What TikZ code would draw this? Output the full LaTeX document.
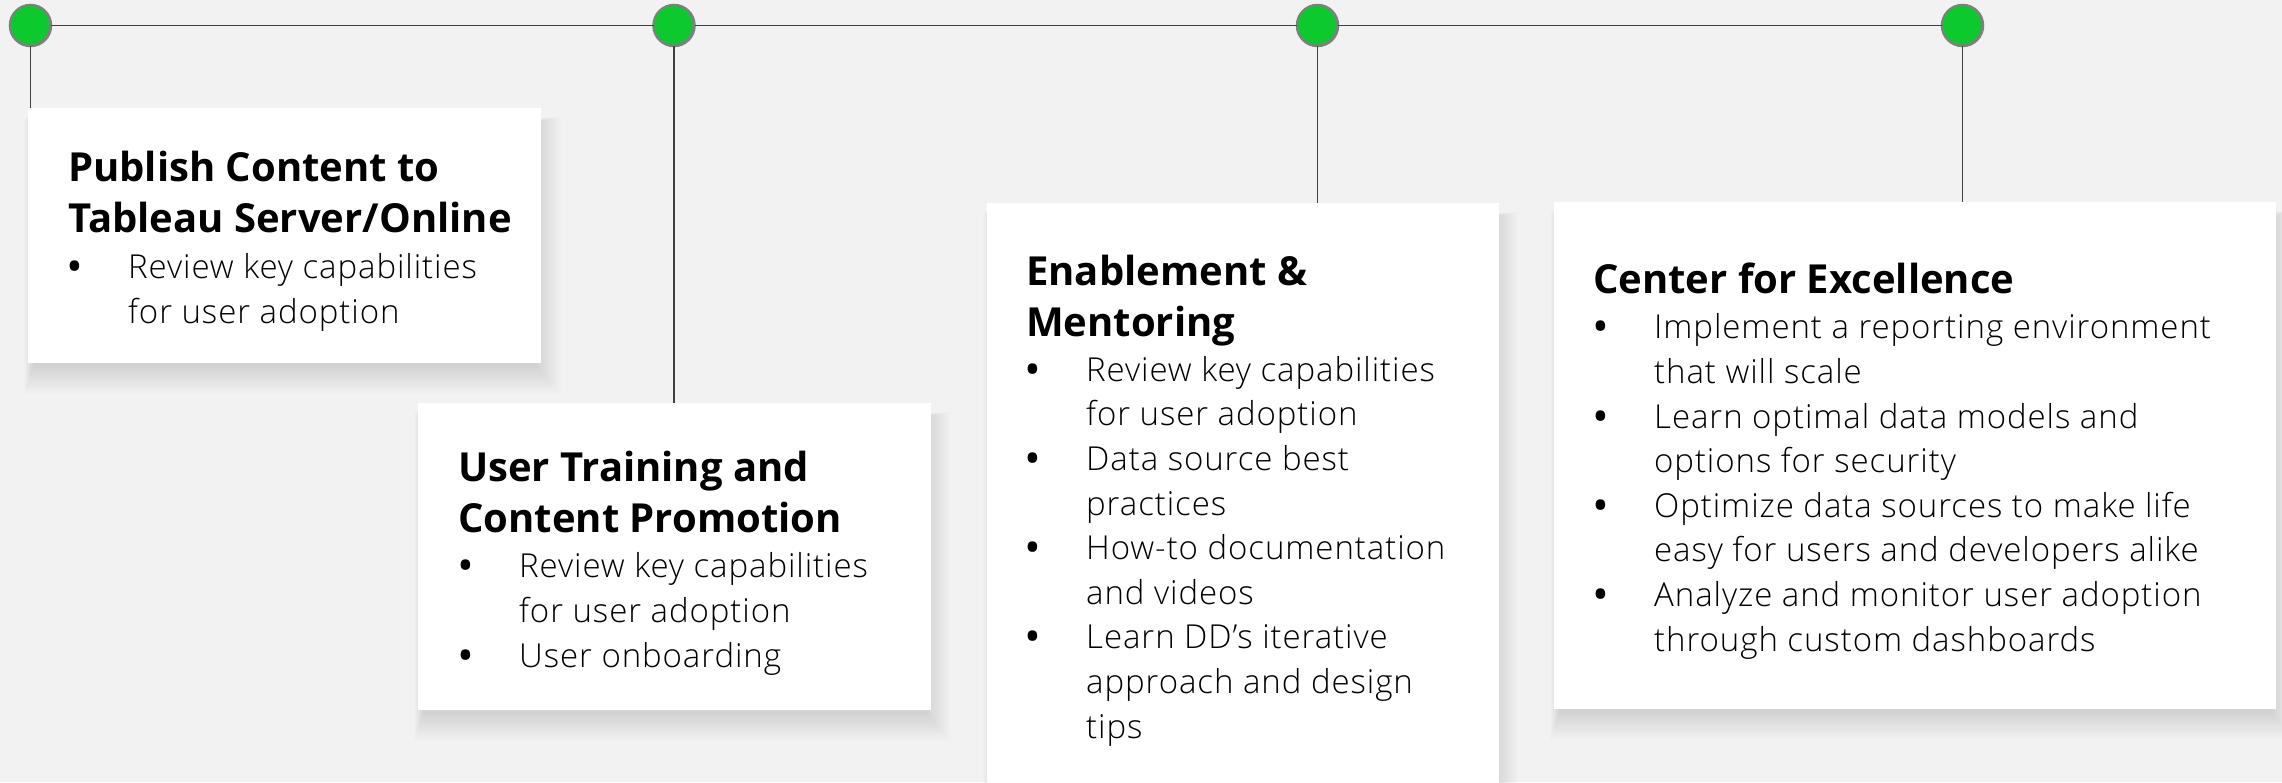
\documentclass[tikz,border=0pt]{standalone}
\usepackage{fontspec}
\setmainfont{Open Sans}
\newfontfamily\lightfont[LetterSpace=2.8]{Open Sans Light}
\usetikzlibrary{calc,backgrounds}

\definecolor{canvas}{HTML}{F2F2F2}
\definecolor{dotgreen}{HTML}{0CC92E}
\definecolor{dotring}{HTML}{7F7F7F}
\definecolor{rulegray}{HTML}{404040}

% one bullet line and one continuation line of a list
\newcommand\bulletline[1]{\makebox[60pt][l]{{\normalfont\bfseries\fontsize{34}{34}\selectfont •}}#1}
\newcommand\contline[1]{\makebox[60pt][l]{}#1}

\begin{document}
\begin{tikzpicture}[x=1pt,y=-1pt,
  card/.style={fill=white, draw=none, anchor=north west, inner sep=0pt, outer sep=0pt},
  dot/.style={circle, fill=dotgreen, draw=dotring, line width=2.5pt, minimum size=41pt, inner sep=0pt, outer sep=0pt},
  link/.style={draw=rulegray, line width=1.5pt},
  % the base anchor of these multi-line nodes sits on their last line
  headline/.style={anchor=base west, align=left, inner sep=0pt,
    font=\fontsize{40}{51}\selectfont\bfseries},
  points/.style={anchor=base west, align=left, inner sep=0pt,
    font=\lightfont\fontsize{33}{44.6}\selectfont},
]
\useasboundingbox (0,0) rectangle (2282,782);
\clip (0,0) rectangle (2282,782);

% milestone dots
\node[dot] (d1) at (30.5,25.5) {};
\node[dot] (d2) at (674,25.5) {};
\node[dot] (d3) at (1317.5,25.5) {};
\node[dot] (d4) at (1962.5,25.5) {};

% cards
\node[card, minimum width=513pt, minimum height=255pt] (b1) at (28,108) {};
\node[card, minimum width=513pt, minimum height=307pt] (b2) at (418,403) {};
\node[card, minimum width=512pt, minimum height=620pt] (b3) at (987,203) {};
\node[card, minimum width=722pt, minimum height=507pt] (b4) at (1554,202) {};

% background and soft card shadows
\begin{pgfonlayer}{background}
  \fill[canvas] (0,0) rectangle (2282,782);
  \foreach \c in {b1,b2,b3,b4}{
    \foreach \i in {1,...,16}{
      \fill[black, opacity=0.008]
        ($(\c.north west)+(-\i*0.6+6, -\i*0.3+14)$) rectangle
        ($(\c.south east)+(\i*1.6-6, \i*1.8+2)$);
    }
  }
\end{pgfonlayer}

% timeline connectors
\draw[link] (d1) -- (d2);
\draw[link] (d2) -- (d3);
\draw[link] (d3) -- (d4);
\draw[link] (d1) -- (b1.north -| d1);
\draw[link] (d2) -- (b2.north -| d2);
\draw[link] (d3) -- (b3.north -| d3);
\draw[link] (d4) -- (b4.north -| d4);

% card texts
\node[headline] (t1) at (68,232) {Publish Content to\\Tableau Server/Online};
\node[points] (p1) at (68,323) {\bulletline{Review key capabilities}\\\contline{for user adoption}};

\node[headline] (t2) at (458,532) {User Training and\\Content Promotion};
\node[points] (p2) at (459,667) {\bulletline{Review key capabilities}\\\contline{for user adoption}\\\bulletline{User onboarding}};

\node[headline] (t3) at (1026,336) {Enablement \&\\Mentoring};
\node[points] (p3) at (1026,738) {\bulletline{Review key capabilities}\\\contline{for user adoption}\\\bulletline{Data source best}\\\contline{practices}\\\bulletline{How-to documentation}\\\contline{and videos}\\\bulletline{Learn DD’s iterative}\\\contline{approach and design}\\\contline{tips}};

\node[headline] (t4) at (1593,293) {Center for Excellence};
\node[points] (p4) at (1594,651) {\bulletline{Implement a reporting environment}\\\contline{that will scale}\\\bulletline{Learn optimal data models and}\\\contline{options for security}\\\bulletline{Optimize data sources to make life}\\\contline{easy for users and developers alike}\\\bulletline{Analyze and monitor user adoption}\\\contline{through custom dashboards}};
\end{tikzpicture}
\end{document}
